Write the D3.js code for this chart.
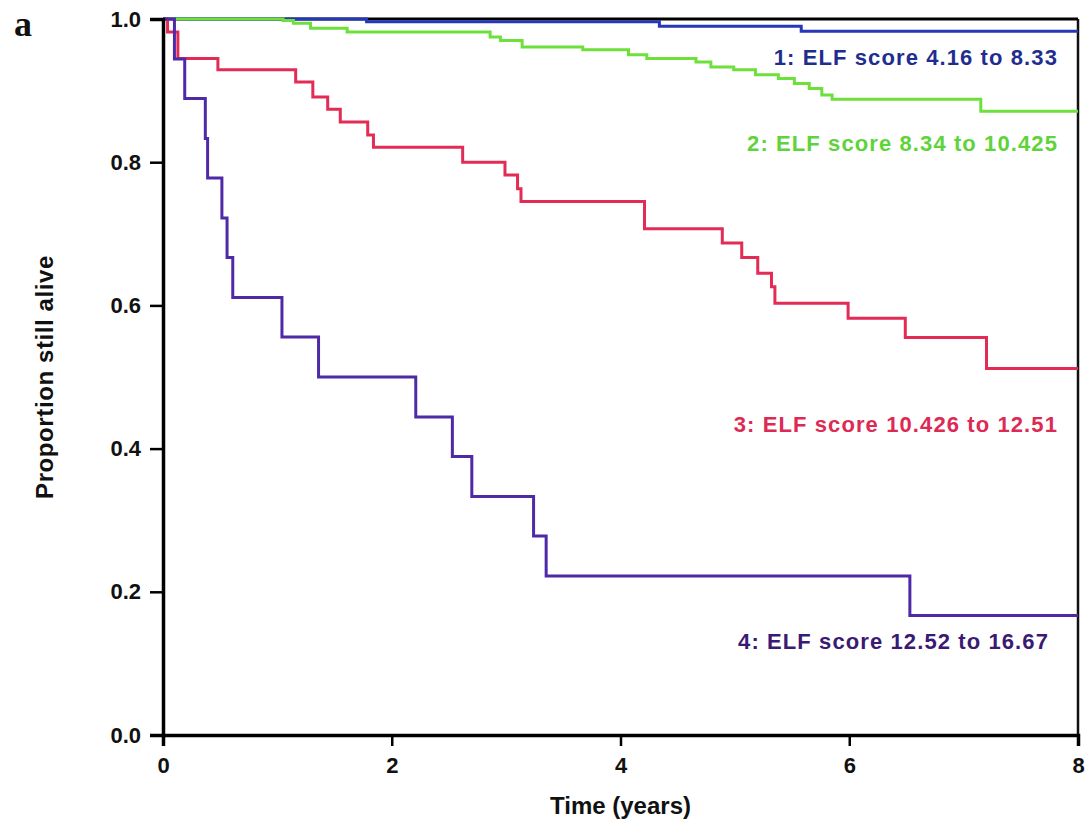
<!DOCTYPE html>
<html>
<head>
<meta charset="utf-8">
<script src="https://cdn.jsdelivr.net/npm/d3@7"></script>
<style>
  body { margin: 0; background: #fff; }
  text { font-family: "Liberation Sans", Arial, sans-serif; font-weight: bold; }
</style>
</head>
<body>
<div id="chart"></div>
<script>
// afmetingen van de figuur
const width = 1091;
const height = 836;
const margin = {top: 19, right: 13, bottom: 101, left: 163};

// tijdstippen (jaren) en overleving per groep
const group1Time = [0, 1.78, 4.34, 5.58, 8];
const group1Surv = [1.0, 0.996, 0.990, 0.983, 0.983];

const group2Time = [0, 1.05, 1.14, 1.29, 1.61, 2.86, 2.95, 3.14, 3.67, 4.07, 4.23, 4.66, 4.79, 4.99, 5.18, 5.38, 5.52, 5.65, 5.76, 5.85, 7.15, 8];
const group2Surv = [1.0, 0.998, 0.994, 0.987, 0.982, 0.975, 0.970, 0.961, 0.957, 0.950, 0.945, 0.940, 0.933, 0.929, 0.922, 0.917, 0.910, 0.903, 0.894, 0.888, 0.871, 0.871];

const group3Time = [0, 0.04, 0.13, 0.48, 1.16, 1.31, 1.44, 1.55, 1.79, 1.84, 2.62, 2.99, 3.10, 3.13, 4.21, 4.89, 5.06, 5.20, 5.32, 5.35, 5.99, 6.49, 7.20, 8];
const group3Surv = [1.0, 0.982, 0.945, 0.929, 0.912, 0.891, 0.874, 0.856, 0.838, 0.821, 0.800, 0.782, 0.763, 0.745, 0.707, 0.687, 0.667, 0.645, 0.626, 0.603, 0.582, 0.555, 0.512, 0.512];

const group4Time = [0, 0.10, 0.19, 0.37, 0.39, 0.515, 0.56, 0.61, 1.04, 1.36, 2.21, 2.53, 2.70, 3.24, 3.35, 6.53, 8];
const group4Surv = [1.0, 0.944, 0.889, 0.833, 0.778, 0.722, 0.667, 0.611, 0.556, 0.500, 0.444, 0.389, 0.333, 0.278, 0.222, 0.167, 0.167];

const groupLabels = ["1: ELF score 4.16 to 8.33", "2: ELF score 8.34 to 10.425", "3: ELF score 10.426 to 12.51", "4: ELF score 12.52 to 16.67"];
const xTicks = [0, 2, 4, 6, 8];
const yTicks = [0, 0.2, 0.4, 0.6, 0.8, 1.0];

// stijl per groep
const groupStyle = [
  {line: "#2438b8", text: "#1f2d8f"},
  {line: "#6ee03c", text: "#5fd33a"},
  {line: "#e22b55", text: "#dc2a55"},
  {line: "#4e2aa6", text: "#3a1a72"}
];
// positie van de labels (rechts uitgelijnd, baseline)
const labelPos = [
  {x: 1058, y: 65},
  {x: 1058, y: 151},
  {x: 1058, y: 432},
  {x: 1049, y: 649}
];

const innerW = width - margin.left - margin.right;
const innerH = height - margin.top - margin.bottom;

const svg = d3.select("#chart")
    .append("svg")
    .attr("width", width)
    .attr("height", height);

const g = svg.append("g")
    .attr("transform", "translate(" + margin.left + "," + margin.top + ")");

// schalen
const xScale = d3.scaleLinear().domain([0, 8]).range([0, innerW]);
const yScale = d3.scaleLinear().domain([0, 1]).range([innerH, 0]);

// stapsgewijze lijn (Kaplan-Meier)
const line = d3.line()
    .x(function(d) { return xScale(d[0]); })
    .y(function(d) { return yScale(d[1]); })
    .curve(d3.curveStepAfter);

const groups = [
  d3.zip(group1Time, group1Surv),
  d3.zip(group2Time, group2Surv),
  d3.zip(group3Time, group3Surv),
  d3.zip(group4Time, group4Surv)
];

// kader boven en rechts
g.append("line")
    .attr("x1", 0).attr("x2", innerW)
    .attr("y1", 0).attr("y2", 0)
    .attr("stroke", "#000").attr("stroke-width", 3);
g.append("line")
    .attr("x1", innerW).attr("x2", innerW)
    .attr("y1", 0).attr("y2", innerH)
    .attr("stroke", "#111").attr("stroke-width", 2.5);

// teken de curves
groups.forEach(function(data, i) {
  g.append("path")
      .datum(data)
      .attr("fill", "none")
      .attr("stroke", groupStyle[i].line)
      .attr("stroke-width", 3)
      .attr("d", line);
});

// x-as
const xAxis = g.append("g")
    .attr("transform", "translate(0," + innerH + ")")
    .call(d3.axisBottom(xScale).tickValues(xTicks).tickSize(11).tickPadding(6).tickFormat(d3.format("d")));

// y-as
const yAxis = g.append("g")
    .call(d3.axisLeft(yScale).tickValues(yTicks).tickSize(13).tickPadding(9).tickFormat(d3.format(".1f")));

[xAxis, yAxis].forEach(function(ax) {
  ax.select(".domain").attr("stroke", "#000").attr("stroke-width", 3.5);
  ax.selectAll(".tick line").attr("stroke", "#000").attr("stroke-width", 2.5);
  ax.selectAll(".tick text")
      .attr("fill", "#111")
      .style("font-size", "22px")
      .style("font-family", "'Liberation Sans', Arial, sans-serif")
      .style("font-weight", "bold");
});
xAxis.selectAll(".tick text").attr("dy", "0.95em");

// labels bij de curves
groupLabels.forEach(function(label, i) {
  svg.append("text")
      .attr("x", labelPos[i].x)
      .attr("y", labelPos[i].y)
      .attr("text-anchor", "end")
      .attr("fill", groupStyle[i].text)
      .style("font-size", "22px")
      .style("letter-spacing", "1.1px")
      .text(label);
});

// as-titels
svg.append("text")
    .attr("x", margin.left + innerW / 2)
    .attr("y", 814)
    .attr("text-anchor", "middle")
    .attr("fill", "#111")
    .style("font-size", "24px")
    .text("Time (years)");

svg.append("text")
    .attr("transform", "translate(53," + (margin.top + innerH / 2) + ") rotate(-90)")
    .attr("text-anchor", "middle")
    .attr("fill", "#111")
    .style("font-size", "24px")
    .style("letter-spacing", "0.6px")
    .text("Proportion still alive");

// paneelletter
svg.append("text")
    .attr("x", 14)
    .attr("y", 36)
    .attr("fill", "#111")
    .style("font-family", "'Liberation Serif', 'DejaVu Serif', serif")
    .style("font-size", "36px")
    .text("a");
</script>
</body>
</html>
